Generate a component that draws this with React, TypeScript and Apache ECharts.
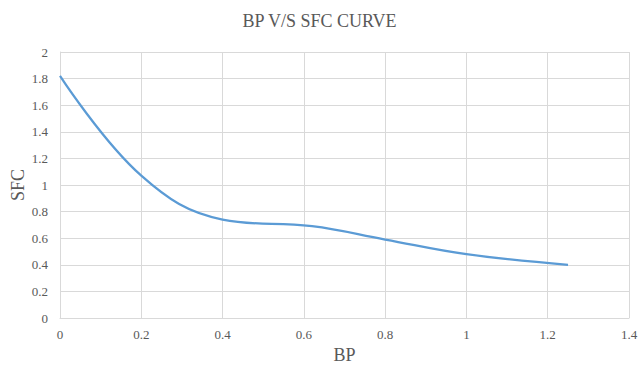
import React, { useEffect, useRef } from "react";
import * as echarts from "echarts";

// Brake power (BP) readings and the matching specific fuel consumption (SFC)
const bpValues = [0, 0.2, 0.4, 0.62, 0.8, 1.0, 1.25];
const sfcValues = [1.82, 1.07, 0.74, 0.69, 0.59, 0.48, 0.4];

const xTicks = { min: 0, max: 1.4, interval: 0.2 };
const yTicks = { min: 0, max: 2, interval: 0.2 };

const FONT = "Liberation Serif";
const TEXT = "#595959";
const GRID = "#d9d9d9";

export default function App() {
  const ref = useRef<HTMLDivElement>(null);

  useEffect(() => {
    document.body.style.margin = "0";
    if (!ref.current) return;
    const chart = echarts.init(ref.current, undefined, { renderer: "svg" });
    const points = bpValues.map((x, i) => [x, sfcValues[i]]);
    chart.setOption({
      animation: false,
      backgroundColor: "#ffffff",
      title: {
        text: "BP V/S SFC CURVE",
        left: "center",
        top: 7,
        textStyle: { fontFamily: FONT, fontSize: 18, fontWeight: "normal", color: TEXT },
      },
      grid: { left: 60, right: 10, top: 52, bottom: 52, outerBoundsMode: "none" },
      xAxis: {
        type: "value",
        ...xTicks,
        name: "BP",
        nameLocation: "middle",
        nameGap: 28,
        nameMoveOverlap: false,
        nameTextStyle: { fontFamily: FONT, fontSize: 18, color: TEXT },
        axisLine: { show: true, lineStyle: { color: GRID, width: 1 } },
        axisTick: { show: false },
        axisLabel: { fontFamily: FONT, fontSize: 13, color: TEXT, margin: 10 },
        splitLine: { show: true, lineStyle: { color: GRID, width: 1 } },
      },
      yAxis: {
        type: "value",
        ...yTicks,
        name: "SFC",
        nameLocation: "middle",
        nameRotate: 90,
        nameGap: 33,
        nameMoveOverlap: false,
        nameTextStyle: { fontFamily: FONT, fontSize: 18, color: TEXT },
        axisLine: { show: true, lineStyle: { color: GRID, width: 1 } },
        axisTick: { show: false },
        axisLabel: { fontFamily: FONT, fontSize: 13, color: TEXT, margin: 12 },
        splitLine: { show: true, lineStyle: { color: GRID, width: 1 } },
      },
      series: [
        {
          type: "line",
          data: points,
          smooth: 0.4,
          showSymbol: false,
          lineStyle: { color: "#5b9bd5", width: 2.25 },
        },
      ],
    });
    return () => chart.dispose();
  }, []);

  return <div ref={ref} style={{ width: 639, height: 370 }} />;
}
